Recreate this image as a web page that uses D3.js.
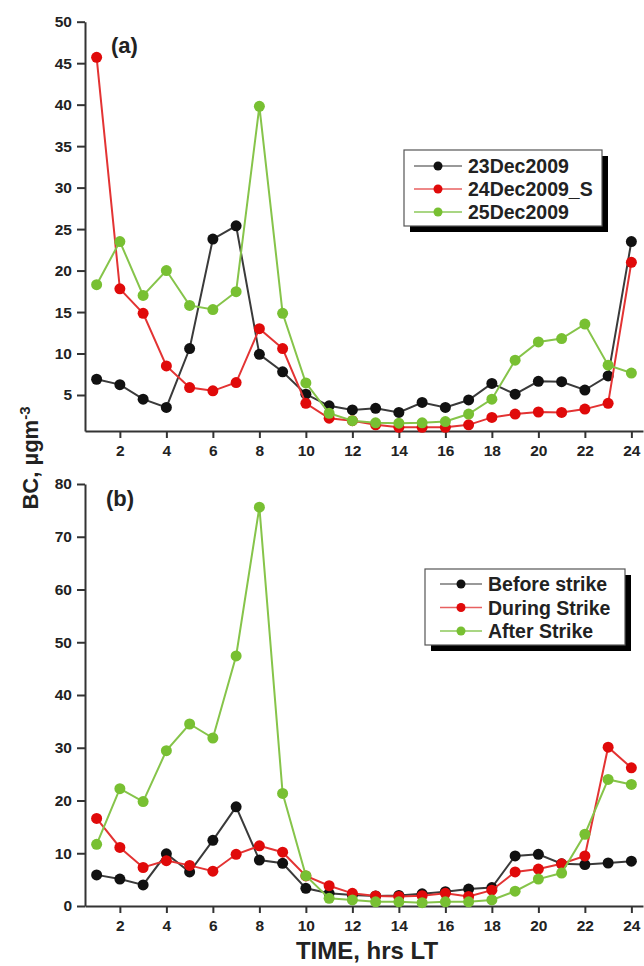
<!DOCTYPE html>
<html><head><meta charset="utf-8">
<script src="https://cdn.jsdelivr.net/npm/d3@7"></script>
<style>
html,body{margin:0;padding:0;background:#fff;}
svg text{font-family:"Liberation Sans",Arial,sans-serif;font-weight:bold;fill:#222;}
</style></head>
<body>
<svg id="c" width="644" height="966"></svg>
<script>
const hours = [1,2,3,4,5,6,7,8,9,10,11,12,13,14,15,16,17,18,19,20,21,22,23,24];
const xTicks = [2,4,6,8,10,12,14,16,18,20,22,24];
const yTicksA = [5,10,15,20,25,30,35,40,45,50];
const yTicksB = [0,10,20,30,40,50,60,70,80];

const dec23 = [6.9,6.25,4.5,3.5,10.6,23.8,25.4,9.9,7.8,5.1,3.7,3.2,3.4,2.9,4.1,3.5,4.4,6.4,5.1,6.65,6.6,5.6,7.3,23.5];
const dec24S = [45.7,17.8,14.85,8.5,5.9,5.5,6.5,13.0,10.6,4.0,2.2,1.9,1.4,1.1,1.1,1.1,1.4,2.3,2.7,2.95,2.9,3.3,4.0,21.0];
const dec25 = [18.3,23.5,17.0,20.0,15.8,15.3,17.45,39.8,14.85,6.45,2.8,1.9,1.65,1.6,1.65,1.8,2.7,4.5,9.2,11.4,11.8,13.55,8.6,7.65];

const before = [5.9,5.1,4.0,9.9,6.45,12.45,18.8,8.7,8.1,3.35,2.4,2.1,1.9,2.0,2.3,2.7,3.2,3.5,9.5,9.8,8.0,7.85,8.15,8.5];
const during = [16.6,11.1,7.3,8.6,7.7,6.6,9.8,11.4,10.2,5.7,3.85,2.4,1.9,1.8,1.95,2.4,1.8,3.0,6.45,7.0,8.0,9.5,30.1,26.2];
const after = [11.7,22.25,19.8,29.45,34.5,31.85,47.4,75.6,21.35,5.75,1.45,1.15,0.8,0.8,0.63,0.8,0.8,1.15,2.8,5.1,6.25,13.6,24.0,23.05];

const namesA = ["23Dec2009","24Dec2009_S","25Dec2009"];
const namesB = ["Before strike","During Strike","After Strike"];

const dotColors = ["#111111","#e00a0a","#78c032"];
const lineColors = ["#3a3a3a","#e33333","#86c44a"];
const legLineColors = ["#777777","#e86060","#8cc85a"];

const svg = d3.select("#c");
const x = d3.scaleLinear().domain([0.5,24.5]).range([85,643]);

function panel(opts){
  const y = d3.scaleLinear().domain(opts.ydom).range(opts.yrange);
  const g = svg.append("g");
  const ax = g.append("g").attr("transform",`translate(0,${opts.yrange[0]})`)
    .call(d3.axisBottom(x).tickValues(xTicks).tickSize(7).tickPadding(4).tickSizeOuter(0));
  const ay = g.append("g").attr("transform","translate(85,0)")
    .call(d3.axisLeft(y).tickValues(opts.yticks).tickSize(8).tickPadding(5).tickSizeOuter(0));
  [ax,ay].forEach(a=>{
    a.select(".domain").attr("stroke","#333").attr("stroke-width",2);
    a.selectAll(".tick line").attr("stroke","#333").attr("stroke-width",2);
    a.selectAll(".tick text").style("font-size","15.5px").attr("fill","#222");
  });
  ax.selectAll(".tick text").attr("dy","0.9em");
  opts.series.forEach((s,i)=>{
    const line = d3.line().x((d,j)=>x(hours[j])).y(d=>y(d));
    g.append("path").datum(s).attr("d",line).attr("fill","none")
      .attr("stroke",lineColors[i]).attr("stroke-width",2);
    g.selectAll(null).data(s).enter().append("circle")
      .attr("cx",(d,j)=>x(hours[j])).attr("cy",d=>y(d)).attr("r",5.5)
      .attr("fill",dotColors[i]);
  });
  g.append("text").attr("x",opts.labx).attr("y",opts.laby).style("font-size","22px").text(opts.label);
  const L = opts.leg;
  g.append("rect").attr("x",L.x+6).attr("y",L.y+6).attr("width",L.w).attr("height",L.h).attr("fill","#000");
  g.append("rect").attr("x",L.x).attr("y",L.y).attr("width",L.w).attr("height",L.h).attr("fill","#fff")
    .attr("stroke","#555").attr("stroke-width",1.2);
  opts.names.forEach((n,i)=>{
    const yy = L.y + L.r0 + i*L.dr;
    g.append("line").attr("x1",L.x+L.l0).attr("x2",L.x+L.l1).attr("y1",yy).attr("y2",yy)
      .attr("stroke",legLineColors[i]).attr("stroke-width",1.5);
    g.append("circle").attr("cx",(L.x+L.l0+L.x+L.l1)/2).attr("cy",yy).attr("r",4.5).attr("fill",dotColors[i]);
    g.append("text").attr("x",L.x+L.tx).attr("y",yy).attr("dy","0.36em").style("font-size","19.5px").text(n);
  });
}

panel({ydom:[0.66,50], yrange:[431,21.7], yticks:yTicksA, series:[dec23,dec24S,dec25],
  label:"(a)", labx:111, laby:53, names:namesA,
  leg:{x:404,y:150,w:198,h:76,r0:16,dr:23,l0:10,l1:58,tx:64}});
panel({ydom:[0,80], yrange:[906,484], yticks:yTicksB, series:[before,during,after],
  label:"(b)", labx:106, laby:506, names:namesB,
  leg:{x:425,y:569,w:200,h:76,r0:15,dr:23.5,l0:15,l1:57,tx:63}});

svg.append("text").attr("x",367).attr("y",959).attr("text-anchor","middle").style("font-size","24px").text("TIME, hrs LT");
const yt = svg.append("text").attr("transform","translate(38,458) rotate(-90)").attr("text-anchor","middle").style("font-size","22px");
yt.append("tspan").text("BC, \u00b5gm");
yt.append("tspan").attr("dy","-0.55em").style("font-size","15px").text("-3");
</script>
</body></html>
